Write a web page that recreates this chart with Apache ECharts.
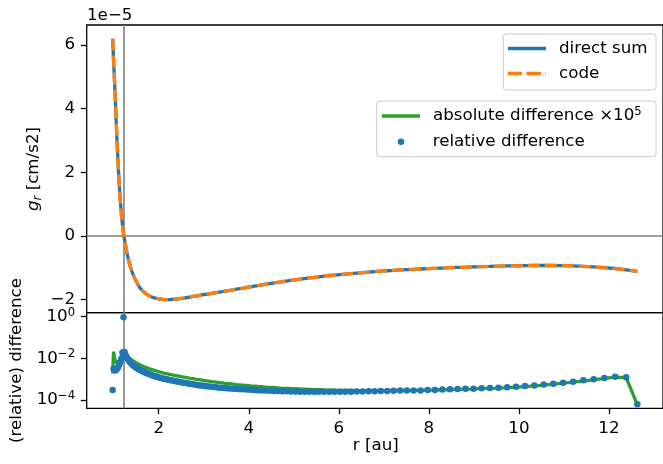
<!DOCTYPE html>
<html><head><meta charset="utf-8">
<script src="https://cdn.jsdelivr.net/npm/echarts@6/dist/echarts.min.js"></script>
<style>html,body{margin:0;padding:0;background:#fff}#c{width:663px;height:464px}</style>
</head><body><div id="c"></div><script>
// radius grid [au]
const R = [0.977,0.996,1.017,1.037,1.058,1.079,1.101,1.123,1.146,1.169,
1.193,1.217,1.241,1.267,1.292,1.318,1.345,1.372,1.399,1.428,
1.457,1.486,1.517,1.547,1.578,1.610,1.642,1.676,1.710,1.744,
1.779,1.815,1.851,1.890,1.928,1.967,2.006,2.047,2.088,2.130,
2.174,2.217,2.262,2.307,2.354,2.402,2.450,2.500,2.551,2.601,
2.654,2.708,2.763,2.818,2.876,2.933,2.993,3.054,3.115,3.178,
3.242,3.307,3.375,3.442,3.512,3.583,3.655,3.729,3.804,3.882,
3.960,4.040,4.122,4.205,4.290,4.377,4.465,4.555,4.647,4.741,
4.837,4.934,5.034,5.135,5.240,5.345,5.454,5.563,5.675,5.791,
5.908,6.027,6.148,6.273,6.399,6.529,6.661,6.795,6.932,7.073,
7.215,7.361,7.510,7.662,7.816,7.974,8.135,8.299,8.467,8.638,
8.813,8.991,9.172,9.358,9.547,9.740,9.937,10.137,10.342,10.551,
10.764,10.982,11.203,11.430,11.660,11.897,12.137,12.382,12.631];
// g_r in units of 1e-5 cm/s2
const G_DIRECT = [6.20,5.55,4.90,4.25,3.50,2.80,2.15,1.60,1.12,0.70,
0.36,0.06,-0.12,-0.33,-0.53,-0.70,-0.85,-0.98,-1.10,-1.21,
-1.31,-1.40,-1.48,-1.56,-1.63,-1.68,-1.73,-1.78,-1.82,-1.85,
-1.88,-1.91,-1.93,-1.95,-1.965,-1.975,-1.985,-1.99,-2.00,-2.005,
-2.01,-2.01,-2.005,-2.00,-1.995,-1.99,-1.98,-1.97,-1.96,-1.95,
-1.94,-1.925,-1.91,-1.895,-1.88,-1.865,-1.85,-1.84,-1.825,-1.81,
-1.795,-1.78,-1.765,-1.75,-1.73,-1.715,-1.70,-1.68,-1.66,-1.645,
-1.625,-1.605,-1.585,-1.565,-1.545,-1.525,-1.505,-1.485,-1.465,-1.445,
-1.425,-1.405,-1.385,-1.365,-1.345,-1.325,-1.31,-1.29,-1.27,-1.25,
-1.235,-1.22,-1.205,-1.19,-1.175,-1.16,-1.145,-1.13,-1.115,-1.10,
-1.09,-1.075,-1.065,-1.055,-1.045,-1.035,-1.025,-1.015,-1.005,-0.995,
-0.99,-0.98,-0.97,-0.965,-0.955,-0.95,-0.945,-0.94,-0.935,-0.935,
-0.935,-0.94,-0.95,-0.965,-0.98,-1.00,-1.03,-1.07,-1.12];
const G_CODE = [6.20,5.55,4.90,4.25,3.50,2.80,2.15,1.60,1.12,0.70,
0.36,0.06,-0.12,-0.33,-0.53,-0.70,-0.85,-0.98,-1.10,-1.21,
-1.31,-1.40,-1.48,-1.56,-1.63,-1.68,-1.73,-1.78,-1.82,-1.85,
-1.88,-1.91,-1.93,-1.95,-1.965,-1.975,-1.985,-1.99,-2.00,-2.005,
-2.01,-2.01,-2.005,-2.00,-1.995,-1.99,-1.98,-1.97,-1.96,-1.95,
-1.94,-1.925,-1.91,-1.895,-1.88,-1.865,-1.85,-1.84,-1.825,-1.81,
-1.795,-1.78,-1.765,-1.75,-1.73,-1.715,-1.70,-1.68,-1.66,-1.645,
-1.625,-1.605,-1.585,-1.565,-1.545,-1.525,-1.505,-1.485,-1.465,-1.445,
-1.425,-1.405,-1.385,-1.365,-1.345,-1.325,-1.31,-1.29,-1.27,-1.25,
-1.235,-1.22,-1.205,-1.19,-1.175,-1.16,-1.145,-1.13,-1.115,-1.10,
-1.09,-1.075,-1.065,-1.055,-1.045,-1.035,-1.025,-1.015,-1.005,-0.995,
-0.99,-0.98,-0.97,-0.965,-0.955,-0.95,-0.945,-0.94,-0.935,-0.935,
-0.935,-0.94,-0.95,-0.965,-0.98,-1.00,-1.03,-1.07,-1.12];
// log10 of relative difference
const REL_LOG10 = [-3.52,-2.50,-2.55,-2.58,-2.55,-2.48,-2.40,-2.30,-2.18,-2.02,
-1.72,-0.03,-1.70,-1.85,-1.97,-2.06,-2.14,-2.21,-2.27,-2.33,
-2.38,-2.43,-2.47,-2.51,-2.55,-2.59,-2.62,-2.66,-2.69,-2.72,
-2.75,-2.78,-2.81,-2.84,-2.87,-2.89,-2.92,-2.94,-2.97,-2.99,
-3.01,-3.03,-3.05,-3.07,-3.09,-3.11,-3.13,-3.15,-3.17,-3.19,
-3.21,-3.23,-3.25,-3.27,-3.29,-3.30,-3.32,-3.34,-3.35,-3.37,
-3.38,-3.40,-3.41,-3.42,-3.44,-3.45,-3.46,-3.47,-3.48,-3.49,
-3.50,-3.51,-3.52,-3.53,-3.54,-3.55,-3.56,-3.565,-3.57,-3.58,
-3.585,-3.59,-3.595,-3.60,-3.60,-3.605,-3.61,-3.61,-3.61,-3.61,
-3.61,-3.605,-3.60,-3.60,-3.595,-3.59,-3.585,-3.58,-3.57,-3.565,
-3.56,-3.55,-3.55,-3.545,-3.54,-3.52,-3.515,-3.50,-3.49,-3.475,
-3.465,-3.455,-3.44,-3.42,-3.41,-3.39,-3.36,-3.33,-3.30,-3.26,
-3.215,-3.17,-3.12,-3.055,-3.01,-2.94,-2.88,-2.91,-4.21];
// log10 of absolute difference x 1e5
const ABS_LOG10 = [-2.72,-1.68,-1.95,-2.12,-2.22,-2.26,-2.22,-2.12,-2.00,-1.90,
-1.82,-1.78,-1.76,-1.80,-1.86,-1.92,-1.98,-2.03,-2.08,-2.12,
-2.16,-2.20,-2.24,-2.27,-2.30,-2.34,-2.37,-2.40,-2.43,-2.46,
-2.49,-2.52,-2.54,-2.57,-2.60,-2.62,-2.65,-2.67,-2.70,-2.72,
-2.74,-2.76,-2.78,-2.80,-2.82,-2.84,-2.86,-2.88,-2.90,-2.92,
-2.94,-2.96,-2.98,-3.00,-3.02,-3.04,-3.06,-3.08,-3.10,-3.12,
-3.13,-3.15,-3.17,-3.19,-3.21,-3.22,-3.24,-3.26,-3.27,-3.29,
-3.30,-3.32,-3.33,-3.35,-3.36,-3.38,-3.39,-3.40,-3.42,-3.43,
-3.44,-3.45,-3.46,-3.47,-3.48,-3.49,-3.50,-3.51,-3.52,-3.525,
-3.53,-3.535,-3.54,-3.545,-3.55,-3.55,-3.55,-3.55,-3.55,-3.55,
-3.55,-3.545,-3.545,-3.54,-3.535,-3.525,-3.52,-3.51,-3.50,-3.49,
-3.48,-3.47,-3.455,-3.44,-3.43,-3.41,-3.385,-3.355,-3.325,-3.285,
-3.24,-3.195,-3.145,-3.08,-3.03,-2.96,-2.90,-2.93,-4.24];

const X_TICKS = [2, 4, 6, 8, 10, 12];
const Y_TOP_TICKS = [-2, 0, 2, 4, 6];
const Y_BOT_TICKS = [1e-4, 1e-2, 1];
const V_LINE_R = 1.225;
const H_LINE_G = 0;

const FONT = 'DejaVu Sans';
const FS = 16.7;
const BLACK = '#000';

function pairs(xs, ys) { return xs.map((x, i) => [x, ys[i]]); }
function pairsPow(xs, ls) { return xs.map((x, i) => [x, Math.pow(10, ls[i])]); }

const supRich = {
  b: {fontSize: FS, fontFamily: FONT, color: BLACK, lineHeight: 20},
  s: {fontSize: 11.7, fontFamily: FONT, color: BLACK, lineHeight: 6, verticalAlign: 'top'}
};

const DASH_ICON = 'path://M0,0H14V3.3H0Z M18.5,0H33V3.3H18.5Z M37.5,0H38V3.3H37.5Z';

const chart = echarts.init(document.getElementById('c'), null, {renderer: 'canvas'});
const tickStyle = {color: BLACK, width: 1.3};
const legendText = {fontSize: FS, fontFamily: FONT, color: BLACK, padding: [0, 0, 0, 8]};

const option = {
  animation: false,
  backgroundColor: '#fff',
  grid: [
    {left: 86.7, top: 25, width: 578.3, height: 287.7, show: true, borderColor: BLACK, borderWidth: 1.3, backgroundColor: 'transparent'},
    {left: 86.7, top: 312.7, width: 578.3, height: 95.6, show: true, borderColor: BLACK, borderWidth: 1.3, backgroundColor: 'transparent'}
  ],
  xAxis: [
    {gridIndex: 0, type: 'value', min: 0.40, max: 13.20,
     axisLine: {show: false}, axisTick: {show: false}, axisLabel: {show: false}, splitLine: {show: false}},
    {gridIndex: 1, type: 'value', min: 0.40, max: 13.20,
     axisLine: {show: false},
     axisTick: {show: true, length: 5.8, lineStyle: tickStyle, customValues: X_TICKS},
     axisLabel: {customValues: X_TICKS, margin: 11.4, fontSize: FS, fontFamily: FONT, color: BLACK},
     splitLine: {show: false}}
  ],
  yAxis: [
    {gridIndex: 0, type: 'value', min: -2.42, max: 6.63,
     axisLine: {show: false},
     axisTick: {show: true, length: 5.8, lineStyle: tickStyle, customValues: Y_TOP_TICKS},
     axisLabel: {customValues: Y_TOP_TICKS, margin: 11.6, fontSize: FS, fontFamily: FONT, color: BLACK,
       formatter: v => (v < 0 ? '\u2212' : '') + Math.abs(v)},
     splitLine: {show: false}},
    {gridIndex: 1, type: 'log', logBase: 10, min: Math.pow(10, -4.40), max: Math.pow(10, 0.192),
     axisLine: {show: false},
     axisTick: {show: true, length: 5.8, lineStyle: tickStyle, customValues: Y_BOT_TICKS},
     minorTick: {show: false},
     axisLabel: {customValues: Y_BOT_TICKS, margin: 11.6, fontSize: FS, fontFamily: FONT, color: BLACK,
       formatter: v => { const e = Math.round(Math.log10(v)); return '{b|10}{s|' + (e < 0 ? '\u2212' : '') + Math.abs(e) + '}'; },
       rich: supRich},
     splitLine: {show: false}}
  ],
  legend: [
    {data: [{name: 'direct sum', icon: 'rect'}], left: 508, top: 40, orient: 'vertical', padding: 0, itemWidth: 38, itemHeight: 3.3, selectedMode: false,
     textStyle: legendText},
    {data: [{name: 'code', icon: DASH_ICON}], left: 508, top: 65, orient: 'vertical', padding: 0, itemWidth: 38, itemHeight: 3.3, selectedMode: false,
     textStyle: legendText},
    {data: [{name: 'absolute difference', icon: 'rect'}], left: 382, top: 106, orient: 'vertical', padding: 0, itemWidth: 38, itemHeight: 3.3, selectedMode: false,
     formatter: n => '{b|' + n + ' \u00d710}{s|5}',
     textStyle: {fontSize: FS, fontFamily: FONT, color: BLACK, padding: [0, 0, 0, 8], rich: supRich}},
    {data: [{name: 'relative difference', icon: 'circle'}], left: 397.75, top: 133.2, orient: 'vertical', padding: 0, itemWidth: 6.5, itemHeight: 6.5, selectedMode: false,
     textStyle: {fontSize: FS, fontFamily: FONT, color: BLACK, padding: [0, 0, 0, 23.4]}}
  ],
  graphic: [
    {type: 'rect', z: 0, shape: {x: 503.3, y: 34, width: 152.7, height: 56, r: 3}, style: {fill: 'rgba(255,255,255,0.8)', stroke: '#cccccc', lineWidth: 1}},
    {type: 'rect', z: 0, shape: {x: 376.7, y: 101, width: 279.3, height: 55.7, r: 3}, style: {fill: 'rgba(255,255,255,0.8)', stroke: '#cccccc', lineWidth: 1}},
    {type: 'text', x: 87, y: 15.3, style: {text: '1e\u22125', fontSize: FS, fontFamily: FONT, fill: BLACK, align: 'left', verticalAlign: 'middle'}},
    {type: 'text', x: 34, y: 169, rotation: Math.PI / 2,
     style: {text: '{i|g}{sub|r} [cm/s2]', fontSize: FS, fontFamily: FONT, fill: BLACK, align: 'center', verticalAlign: 'middle',
       rich: {i: {fontSize: FS, fontFamily: FONT, fontStyle: 'italic', lineHeight: 20},
              sub: {fontSize: 11.7, fontFamily: FONT, fontStyle: 'italic', lineHeight: 4, verticalAlign: 'bottom'}}}},
    {type: 'text', x: 17, y: 360.5, rotation: Math.PI / 2,
     style: {text: '(relative) difference', fontSize: FS, fontFamily: FONT, fill: BLACK, align: 'center', verticalAlign: 'middle'}},
    {type: 'text', x: 375.8, y: 446, style: {text: 'r [au]', fontSize: FS, fontFamily: FONT, fill: BLACK, align: 'center', verticalAlign: 'middle'}}
  ],
  series: [
    {name: 'direct sum', type: 'line', xAxisIndex: 0, yAxisIndex: 0, data: pairs(R, G_DIRECT), symbol: 'none', showSymbol: false, z: 3,
     lineStyle: {color: '#1f77b4', width: 3.3}, itemStyle: {color: '#1f77b4', borderWidth: 0},
     markLine: {silent: true, symbol: 'none', z: 1, label: {show: false}, animation: false,
       lineStyle: {color: '#808080', width: 1.6, type: 'solid'},
       data: [{xAxis: V_LINE_R}, {yAxis: H_LINE_G}]}},
    {name: 'code', type: 'line', xAxisIndex: 0, yAxisIndex: 0, data: pairs(R, G_CODE), symbol: 'none', showSymbol: false, z: 4,
     lineStyle: {color: '#ff7f0e', width: 3.3, type: [12, 5]}, itemStyle: {color: '#ff7f0e', borderWidth: 0}},
    {name: 'absolute difference', type: 'line', xAxisIndex: 1, yAxisIndex: 1, data: pairsPow(R, ABS_LOG10), symbol: 'none', showSymbol: false, z: 3,
     lineStyle: {color: '#2ca02c', width: 3.3}, itemStyle: {color: '#2ca02c', borderWidth: 0},
     markLine: {silent: true, symbol: 'none', z: 1, label: {show: false}, animation: false,
       lineStyle: {color: '#808080', width: 1.6, type: 'solid'},
       data: [{xAxis: V_LINE_R}]}},
    {name: 'relative difference', type: 'scatter', xAxisIndex: 1, yAxisIndex: 1, data: pairsPow(R, REL_LOG10), symbol: 'circle', symbolSize: 6.5, z: 4,
     itemStyle: {color: '#1f77b4', opacity: 1}}
  ]
};
chart.setOption(option);
</script></body></html>
